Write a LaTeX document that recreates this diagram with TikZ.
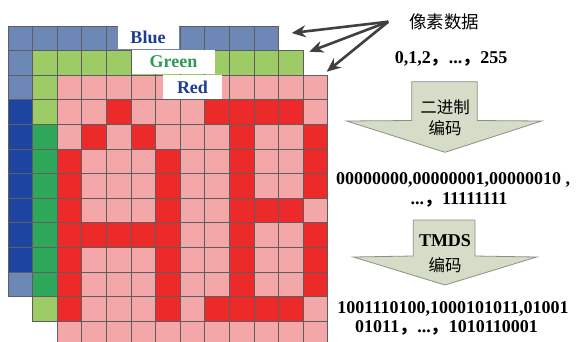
\documentclass[tikz,border=0pt]{standalone}
\usepackage{fontspec}
\setmainfont{Liberation Serif}
\newfontfamily\cjk{Noto Sans CJK SC}
\usetikzlibrary{arrows.meta}
\definecolor{bluelt}{HTML}{6D87B7}
\definecolor{bluedk}{HTML}{1C44A0}
\definecolor{greenlt}{HTML}{9DCB66}
\definecolor{greendk}{HTML}{2FA75A}
\definecolor{pinkc}{HTML}{F4A7A9}
\definecolor{redc}{HTML}{EC2A2A}
\definecolor{gridc}{HTML}{5E5E5E}
\definecolor{arrowfill}{HTML}{D5DCC8}
\definecolor{arrowedge}{HTML}{8C9184}
\definecolor{ptrgray}{HTML}{404040}
\definecolor{bluetext}{HTML}{1F3D8E}
\definecolor{greentext}{HTML}{2E9B55}
\begin{document}
\begin{tikzpicture}[x=1pt,y=-1pt,
  cell/.style={draw=gridc,line width=0.8pt},
  blockarrow/.style={fill=arrowfill,draw=arrowedge,line width=0.8pt},
  ptr/.style={draw=ptrgray,line width=2.6pt,-{Stealth[length=14pt,width=12pt]}},
  layerlabel/.style={fill=white,inner sep=0pt,font=\fontsize{18}{20}\selectfont\bfseries},
  bintext/.style={anchor=base,inner sep=0pt,font=\fontsize{18}{20}\selectfont\bfseries},
  cjktext/.style={anchor=base,inner sep=0pt,font=\fontsize{16.5}{18}\selectfont\cjk}]
\useasboundingbox (0,0) rectangle (579,341);
\clip (0,0) rectangle (579,341);
\fill[white] (0,0) rectangle (579,341);
\def\s{24.6}
% blue layer
\foreach \r in {0,...,10}{\foreach \c in {0,...,10}{
  \filldraw[cell,fill=bluelt] ({8+\c*\s},{26+\r*\s}) rectangle ++(\s,\s);}}
\foreach \r in {3,...,9}{
  \filldraw[cell,fill=bluedk] (8,{26+\r*\s}) rectangle ++(\s,\s);}
% green layer
\foreach \r in {0,...,10}{\foreach \c in {0,...,10}{
  \filldraw[cell,fill=greenlt] ({8+\s+\c*\s},{26+\s+\r*\s}) rectangle ++(\s,\s);}}
\foreach \r in {3,...,9}{
  \filldraw[cell,fill=greendk] ({8+\s},{26+\s+\r*\s}) rectangle ++(\s,\s);}
% red layer
\foreach \r in {0,...,10}{\foreach \c in {0,...,10}{
  \filldraw[cell,fill=pinkc] ({8+2*\s+\c*\s},{26+2*\s+\r*\s}) rectangle ++(\s,\s);}}
\foreach \r/\cols in {1/{2,6,7,8,9},2/{1,3,7,10},3/{0,4,7,10},4/{0,4,7,10},5/{0,4,7,8,9},6/{0,1,2,3,4,7,10},7/{0,4,7,10},8/{0,4,7,10},9/{0,4,6,7,8,9}}{
  \foreach \c in \cols {
    \filldraw[cell,fill=redc] ({8+2*\s+\c*\s},{26+2*\s+\r*\s}) rectangle ++(\s,\s);}}
% layer labels
\node[layerlabel,minimum width=61pt,minimum height=23.5pt,text=bluetext] (lblue) at (148,37.7) {Blue};
\node[layerlabel,minimum width=83pt,minimum height=24pt,text=greentext] (lgreen) at (173.5,62) {Green};
\node[layerlabel,minimum width=58.5pt,minimum height=24pt,text=bluetext] (lred) at (192.5,87) {Red};
% pointer arrows
\coordinate (src) at (388.3,21.7);
\coordinate (tB) at (291.7,33);
\coordinate (tG) at (309.3,51.7);
\coordinate (tR) at (326.7,71.7);
\draw[ptr] (src) -- (tB);
\draw[ptr] (src) -- (tG);
\draw[ptr] (src) -- (tR);
% texts
\node[cjktext,font=\fontsize{17.5}{19}\selectfont\cjk] (pix) at (444,28.6) {像素数据};
\node[bintext] (range) at (451,63) {0,1,2{\cjk ，}...{\cjk ，}255};
% block arrow 1
\draw[blockarrow] (411.7,81.7) -- (477.3,81.7) -- (477.3,120.5) -- (541.7,121) -- (445,152.3) -- (346.7,121) -- (411.7,120.5) -- cycle;
\node[cjktext] (a1l1) at (445,113) {二进制};
\node[cjktext] (a1l2) at (445,134.6) {编码};
\node[bintext] (bin1) at (453,184.4) {00000000,00000001,00000010 ,};
\node[bintext] (bin2) at (459,204.4) {...{\cjk ，}11111111};
% block arrow 2
\draw[blockarrow] (413.3,220) -- (475,220) -- (475,256) -- (536.7,257) -- (445,285) -- (353.3,257) -- (413.3,256) -- cycle;
\node[bintext] (a2l1) at (445,246.1) {TMDS};
\node[cjktext] (a2l2) at (445,271.3) {编码};
\node[bintext] (tm1) at (453,313) {1001110100,1000101011,01001};
\node[bintext] (tm2) at (446.5,332.8) {01011{\cjk ，}...{\cjk ，}1010110001};
\end{tikzpicture}
\end{document}
